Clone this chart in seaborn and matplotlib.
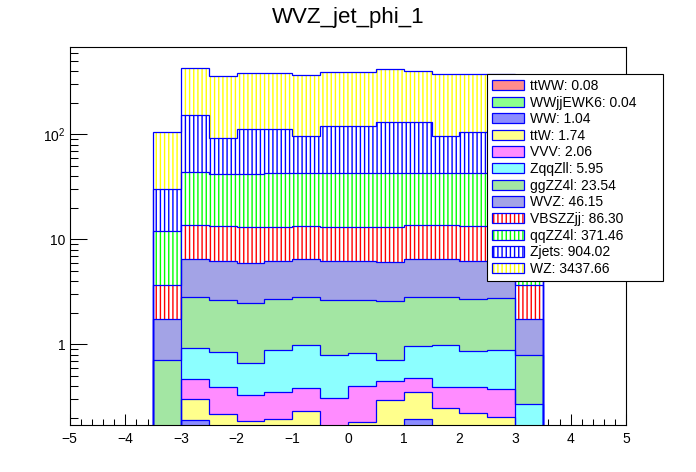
#!/usr/bin/env python3
"""
Stacked jet phi distribution, drawn in the style of a ROOT THStack on log y.
"""

import numpy as np
import pandas as pd
import seaborn as sns
import matplotlib

matplotlib.use("Agg")
import matplotlib.pyplot as plt
from matplotlib.patches import Patch
from matplotlib import colors as mcolors
from matplotlib.ticker import (
    FixedLocator,
    FixedFormatter,
    LogLocator,
    MultipleLocator,
    NullFormatter,
)

sns.set_style("white")
plt.rcParams["font.family"] = ["Liberation Sans", "DejaVu Sans"]
plt.rcParams["mathtext.fontset"] = "custom"
plt.rcParams["mathtext.rm"] = "Liberation Sans"
plt.rcParams["mathtext.it"] = "Liberation Sans:italic"
plt.rcParams["hatch.linewidth"] = 1.0
plt.rcParams["text.color"] = "black"

# binning of jet phi
edges = np.arange(-3.5, 3.51, 0.5)

# stack order, first entry is the bottom of the stack
processes = ["ttWW", "WWjjEWK6", "WW", "ttW", "VVV", "ZqqZll",
             "ggZZ4l", "WVZ", "VBSZZjj", "qqZZ4l", "Zjets", "WZ"]
labels = ["ttWW: 0.08", "WWjjEWK6: 0.04", "WW: 1.04", "ttW: 1.74",
          "VVV: 2.06", "ZqqZll: 5.95", "ggZZ4l: 23.54", "WVZ: 46.15",
          "VBSZZjj: 86.30", "qqZZ4l: 371.46", "Zjets: 904.02", "WZ: 3437.66"]

# events per bin
ttWW = [0, 0, 0.01, 0, 0.02, 0, 0.01, 0, 0.02, 0, 0.01, 0, 0.01, 0]
WWjjEWK6 = [0, 0, 0, 0.01, 0, 0, 0.01, 0.01, 0, 0, 0, 0.01, 0, 0]
WW = [0, 0.19, 0.06, 0.05, 0.06, 0.06, 0.07, 0.06, 0.06, 0.195, 0.06, 0.07, 0.06, 0]
ttW = [0.02, 0.112, 0.148, 0.127, 0.115, 0.173, 0.06, 0.111, 0.214, 0.156, 0.179, 0.143, 0.134, 0.03]
VVV = [0.04, 0.168, 0.177, 0.144, 0.159, 0.153, 0.16, 0.219, 0.156, 0.130, 0.146, 0.172, 0.174, 0.05]
ZqqZll = [0.09, 0.451, 0.462, 0.338, 0.536, 0.607, 0.487, 0.433, 0.269, 0.491, 0.598, 0.476, 0.512, 0.19]
ggZZ4l = [0.564, 1.928, 1.813, 1.831, 1.84, 1.857, 1.873, 1.837, 1.891, 1.878, 1.857, 1.859, 1.90, 0.525]
WVZ = [1.046, 3.72, 3.62, 3.52, 3.56, 3.72, 3.62, 3.62, 3.54, 3.72, 3.72, 3.56, 3.61, 0.963]
VBSZZjj = [1.90, 7.13, 7.11, 6.98, 6.71, 6.83, 6.71, 6.71, 7.05, 7.03, 7.03, 7.11, 7.0, 1.95]
qqZZ4l = [8.39, 29.7, 28.5, 28.9, 29.5, 29.1, 29.5, 29.5, 29.9, 28.9, 29.7, 29.9, 29.6, 8.3]
Zjets = [17.9, 108.6, 50.5, 70.1, 69.5, 54.1, 77.0, 77.0, 88.9, 89.5, 53.3, 62.2, 67.0, 18.5]
WZ = [74.8, 275, 271, 271, 271, 272, 271.5, 271.5, 283, 268, 277, 269, 263, 80.0]

values = [ttWW, WWjjEWK6, WW, ttW, VVV, ZqqZll,
          ggZZ4l, WVZ, VBSZZjj, qqZZ4l, Zjets, WZ]

# fill colours: the dotted ROOT fills look like colour mixed with white
palette = {
    "ttWW": "#ff8c8c", "WWjjEWK6": "#8cff8c", "WW": "#8c8cff",
    "ttW": "#ffff8c", "VVV": "#ff8cff", "ZqqZll": "#8cffff",
    "ggZZ4l": "#a3e6a3", "WVZ": "#a3a3e6",
    "VBSZZjj": "#ff0000", "qqZZ4l": "#00ff00", "Zjets": "#0000ff", "WZ": "#ffff00",
}
hatched = ["VBSZZjj", "qqZZ4l", "Zjets", "WZ"]
line_blue = "#0000ff"

centers = (edges[:-1] + edges[1:]) / 2
df = pd.concat(
    [pd.DataFrame({"phi": centers, "events": v, "process": p})
     for p, v in zip(processes, values)],
    ignore_index=True,
)

fig = plt.figure(figsize=(6.96, 4.72), dpi=100)
ax = fig.add_axes([0.1, 0.1, 0.8, 0.8])

# seaborn stacks the last hue level at the bottom
sns.histplot(
    df, x="phi", weights="events", hue="process",
    hue_order=processes[::-1], palette=palette,
    binwidth=0.5, binrange=(-3.5, 3.5),
    multiple="stack", element="step", fill=True, alpha=1,
    linewidth=0, legend=False, ax=ax,
)

# turn the vertical-line processes into hatched fills
lookup = {mcolors.to_hex(palette[p]): p for p in processes}
for coll in ax.collections:
    p = lookup.get(mcolors.to_hex(coll.get_facecolor()[0]))
    if p in hatched:
        coll.set_facecolor("white")
        coll.set_edgecolor(palette[p])
        coll.set_linewidth(0)
        coll.set_hatch("||||")

# blue outlines of each histogram in the stack
cum = np.cumsum(np.array(values), axis=0)
for top in cum:
    ax.stairs(top, edges, baseline=1e-3, color=line_blue, lw=0.9)

ax.set_yscale("log")
ax.set_xlim(-5, 5)
ax.set_ylim(0.172, 676)
ax.set_xlabel("")
ax.set_ylabel("")

ax.xaxis.set_major_locator(MultipleLocator(1))
ax.xaxis.set_minor_locator(MultipleLocator(0.2))
ax.yaxis.set_major_locator(FixedLocator([1, 10, 100]))
ax.yaxis.set_major_formatter(FixedFormatter(["1", "10", "$10^{2}$"]))
ax.yaxis.set_minor_locator(LogLocator(base=10, subs=np.arange(2, 10)))
ax.yaxis.set_minor_formatter(NullFormatter())

ax.tick_params(axis="both", which="both", direction="in", bottom=True,
               left=True, top=False, right=False, width=0.75, color="black",
               labelsize=10, labelcolor="black")
ax.tick_params(axis="x", which="major", length=8.1, pad=5)
ax.tick_params(axis="x", which="minor", length=4)
ax.tick_params(axis="y", which="major", length=12.2, pad=3)
ax.tick_params(axis="y", which="minor", length=6)
for s in ax.spines.values():
    s.set_color("black")
    s.set_linewidth(0.8)

# legend, ROOT style
handles = []
for p in processes:
    if p in hatched:
        handles.append((
            Patch(facecolor="white", edgecolor=palette[p], hatch="||||", lw=0),
            Patch(facecolor="none", edgecolor=line_blue, lw=0.9),
        ))
    else:
        handles.append(Patch(facecolor=palette[p], edgecolor=line_blue, lw=0.9))

leg = fig.legend(
    handles, labels, loc="upper left",
    bbox_to_anchor=(0.6997, 0.4004, 0.2529, 0.4428), mode="expand",
    fontsize=10, handlelength=2.3, handleheight=0.75, handletextpad=0.45,
    borderpad=0.35, labelspacing=0.19, borderaxespad=0,
    fancybox=False, framealpha=1,
)
leg.get_frame().set_edgecolor("black")
leg.get_frame().set_linewidth(0.8)

fig.text(0.5, 1 - 23 / 472, "WVZ_jet_phi_1", ha="center", va="baseline",
         fontsize=16, color="black")

plt.savefig("out.png", dpi=100)
